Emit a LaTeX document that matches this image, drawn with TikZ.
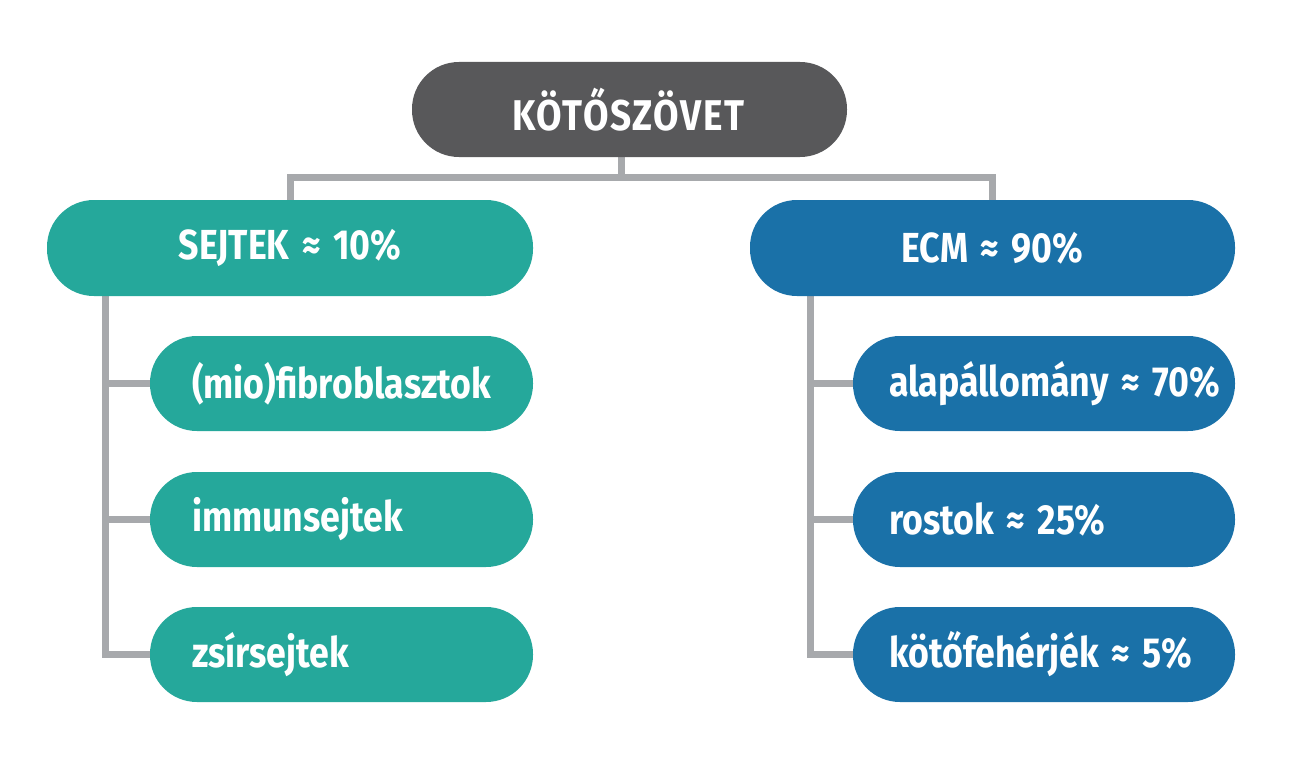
\documentclass[tikz,border=0pt]{standalone}
\usepackage{fontspec}
\setmainfont{Fira Sans}[FakeStretch=0.85, WordSpace=1.5]
\newfontfamily\topfont{Fira Sans}[FakeStretch=0.86, LetterSpace=4]
\usetikzlibrary{backgrounds}
\definecolor{topgray}{HTML}{58585A}
\definecolor{teal}{HTML}{25A89B}
\definecolor{ecmblue}{HTML}{1A71A8}
\definecolor{linegray}{HTML}{A7A9AC}
\tikzset{
  pill/.style={rounded corners=47pt, minimum height=95pt, inner sep=0pt, draw=none},
  lab/.style={text=white, font=\fontsize{42pt}{46pt}\selectfont\bfseries, inner sep=0pt},
  conn/.style={draw=linegray, line width=7pt},
}
\begin{document}
\begin{tikzpicture}[x=1pt,y=-1pt]
\useasboundingbox (0,0) rectangle (1296,760);
% main nodes
\node[pill, fill=topgray, minimum width=435pt] (top) at (629.5,109.5) {};
\node[lab, font=\fontsize{43pt}{47pt}\topfont\bfseries] (toplab) at ([xshift=-1pt]top.center) {KÖTŐSZÖVET};
\node[pill, fill=teal, minimum width=486pt, minimum height=96pt] (sej) at (290,248) {};
\node[lab] (sejlab) at (sej.center) {SEJTEK ≈ 10\%};
\node[pill, fill=ecmblue, minimum width=485pt, minimum height=96pt] (ecm) at (992.5,248) {};
\node[lab] (ecmlab) at (ecm.center) {ECM ≈ 90\%};
% left children
\node[pill, fill=teal, minimum width=383pt] (l1) at (341.5,383.5) {};
\node[pill, fill=teal, minimum width=383pt] (l2) at (341.5,519.5) {};
\node[pill, fill=teal, minimum width=383pt] (l3) at (341.5,654.5) {};
\node[lab, anchor=west] (l1lab) at ([xshift=42pt]l1.west) {(mio)fibroblasztok};
\node[lab, anchor=west] (l2lab) at ([xshift=42pt]l2.west) {immunsejtek};
\node[lab, anchor=west] (l3lab) at ([xshift=42pt]l3.west) {zsírsejtek};
% right children
\node[pill, fill=ecmblue, minimum width=382pt] (r1) at (1044,383.5) {};
\node[pill, fill=ecmblue, minimum width=382pt] (r2) at (1044,519.5) {};
\node[pill, fill=ecmblue, minimum width=382pt] (r3) at (1044,654.5) {};
\node[lab, anchor=west] (r1lab) at ([xshift=36pt]r1.west) {alapállomány ≈ 70\%};
\node[lab, anchor=west] (r2lab) at ([xshift=36pt]r2.west) {rostok ≈ 25\%};
\node[lab, anchor=west] (r3lab) at ([xshift=36pt]r3.west) {kötőfehérjék ≈ 5\%};
% connectors
\coordinate (hub) at (621,177);
\coordinate (lv) at (105,280);
\coordinate (rv) at (810,280);
\begin{scope}[on background layer]
\fill[white] (0,0) rectangle (1296,760);
\draw[conn] (hub |- top.center) -- (hub);
\draw[conn] (sej.center) |- (hub) -| (ecm.center);
\draw[conn] (lv) |- (l3.center);
\draw[conn] (lv |- l1.center) -- (l1.center);
\draw[conn] (lv |- l2.center) -- (l2.center);
\draw[conn] (rv) |- (r3.center);
\draw[conn] (rv |- r1.center) -- (r1.center);
\draw[conn] (rv |- r2.center) -- (r2.center);
\end{scope}
\end{tikzpicture}
\end{document}
